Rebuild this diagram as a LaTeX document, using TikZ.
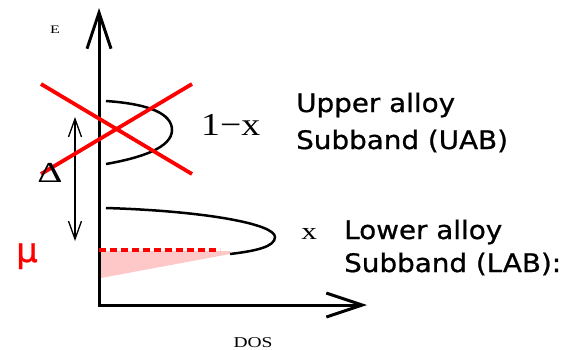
\documentclass[tikz,border=0pt]{standalone}
\usepackage{fontspec}
\usetikzlibrary{arrows.meta}
\newfontfamily\labsans[FakeBold=0.8]{DejaVu Sans}
\newfontfamily\labserif{Liberation Serif}
\definecolor{pinkfill}{RGB}{255,200,200}
\tikzset{
  axisline/.style={line width=3pt,-{Straight Barb[length=36pt 0,width=24pt 0]}},
  bandcurve/.style={line width=2.5pt},
  crossline/.style={red,line width=3.8pt},
  gaparrow/.style={line width=1.3pt,{Straight Barb[length=18pt 0,width=13pt 0]}-{Straight Barb[length=18pt 0,width=13pt 0]}},
  mudash/.style={red,line width=4pt,dash pattern=on 7pt off 4pt},
  bigtext/.style={inner sep=0pt,anchor=base west,font=\labsans\fontsize{25.5}{30}\selectfont,xscale=1.09},
  smallserif/.style={inner sep=0pt,font=\labserif},
}
\begin{document}
\begin{tikzpicture}[x=1pt,y=-1pt]
\useasboundingbox (0,0) rectangle (569,349);
% coordinates
\coordinate (O) at (99,305);
\coordinate (Etop) at (99,8);
\coordinate (Dend) at (367,305);
% pink filled region
\fill[pinkfill] (101,251) -- (230,251) -- (230,254) -- (101,278) -- cycle;
% axes
\draw[axisline] (O) -- (Etop);
\draw[axisline] ([xshift=-1.5pt]O) -- (Dend);
% upper band curve
\coordinate (u1) at (106,101);
\coordinate (u2) at (172,130);
\coordinate (u3) at (106,164);
\draw[bandcurve] (u1) .. controls (150,104) and (172,114) .. (u2) .. controls (172,148) and (140,158) .. (u3);
% lower band curve
\coordinate (l1) at (106,208);
\coordinate (l2) at (275,237);
\coordinate (l3) at (230,254);
\draw[bandcurve] (l1) .. controls (205,211) and (275,224) .. (l2) .. controls (275,247) and (255,251) .. (l3);
% mu dashed line
\coordinate (m1) at (99,250);
\coordinate (m2) at (220,250);
\draw[mudash] (m1) -- (m2);
% gap arrow
\coordinate (g1) at (75,117);
\coordinate (g2) at (75,241);
\draw[gaparrow] (g1) -- (g2);
% red cross
\coordinate (c1) at (41,84);
\coordinate (c2) at (192,174);
\coordinate (c3) at (41,174);
\coordinate (c4) at (192,84);
\draw[crossline] (c1) -- (c2);
\draw[crossline] (c3) -- (c4);
% labels
\node[smallserif,anchor=base,xscale=1.4,font=\labserif\fontsize{11.5}{13}\selectfont] (Elab) at (55,33) {E};
\node[smallserif,anchor=base,xscale=1.3,font=\labserif\fontsize{15}{18}\selectfont] (doslab) at (253,347) {DOS};
\node[smallserif,anchor=base west,xscale=1.35,font=\labserif\fontsize{29}{32}\selectfont] (dlab) at (37,182) {Δ};
\node[smallserif,anchor=base west,xscale=1.18,font=\labserif\fontsize{32}{36}\selectfont] (onex) at (201,135) {1−x};
\node[smallserif,anchor=base west,xscale=1.3,font=\labserif\fontsize{24}{28}\selectfont] (xlab) at (301,239) {x};
\node[inner sep=0pt,anchor=base west,text=red,font=\labsans\fontsize{34}{40}\selectfont] (mulab) at (16,262) {μ};
\node[bigtext] (uab1) at (296,112) {Upper alloy};
\node[bigtext] (uab2) at (296,149) {Subband (UAB)};
\node[bigtext] (lab1) at (344,239) {Lower alloy};
\node[bigtext] (lab2) at (344,272) {Subband (LAB):};
\end{tikzpicture}
\end{document}
